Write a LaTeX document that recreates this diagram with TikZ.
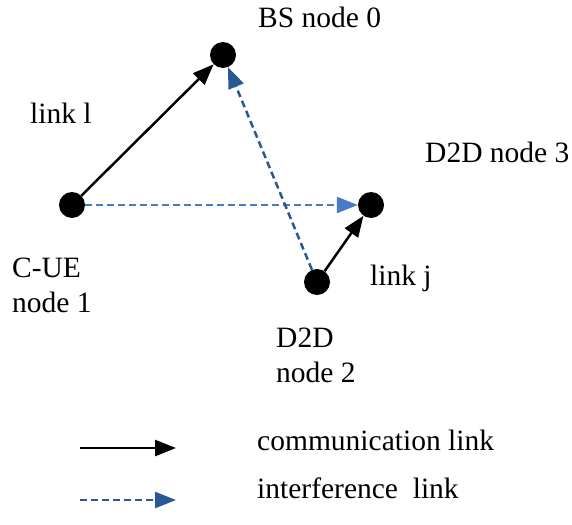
\documentclass[tikz,border=0pt]{standalone}
\usepackage{fontspec}
\setmainfont{Liberation Serif}
\usetikzlibrary{arrows.meta}
\definecolor{intlight}{HTML}{4A7CC4}
\definecolor{intdark}{HTML}{2A5894}
\begin{document}
\begin{tikzpicture}[x=1pt,y=-1pt,
  dot/.style={circle,fill=black,minimum size=26pt,inner sep=0pt},
  lbl/.style={font=\fontsize{29.5}{35}\selectfont,inner sep=0pt,anchor=base west,align=left},
  comm/.style={line width=2.5pt,-{Triangle[length=21pt,width=16pt]}},
  intf/.style={line width=2.5pt,dash pattern=on 7pt off 4pt,-{Triangle[length=21pt,width=16pt]}}]
\useasboundingbox (0,0) rectangle (572,524);
\node[dot] (n0) at (223,55) {};
\node[dot] (n1) at (72,205) {};
\node[dot] (n3) at (371,205) {};
\node[dot] (n2) at (317,282) {};
\draw[comm] (n1) -- (n0);
\draw[comm] (n2) -- (n3);
\draw[intf,intlight] (n1) -- (n3);
\draw[intf,intdark] (n2) -- (n0);
\node[lbl] (t0) at (258,28) {BS node 0};
\node[lbl] (tl) at (30,124) {link l};
\node[lbl] (t3) at (425,162) {D2D node 3};
\node[lbl] (t1) at (12,312) {C-UE\\node 1};
\node[lbl] (tj) at (370,285) {link j};
\node[lbl] (t2) at (276,382) {D2D\\node 2};
\coordinate (la) at (80,448);
\coordinate (lb) at (176,448);
\coordinate (lc) at (80,500);
\coordinate (ld) at (176,500);
\draw[comm] (la) -- (lb);
\draw[intf,intdark] (lc) -- (ld);
\node[lbl] (tc) at (257,450) {communication link};
\node[lbl] (ti) at (257,498) {interference\ \ link};
\end{tikzpicture}
\end{document}
